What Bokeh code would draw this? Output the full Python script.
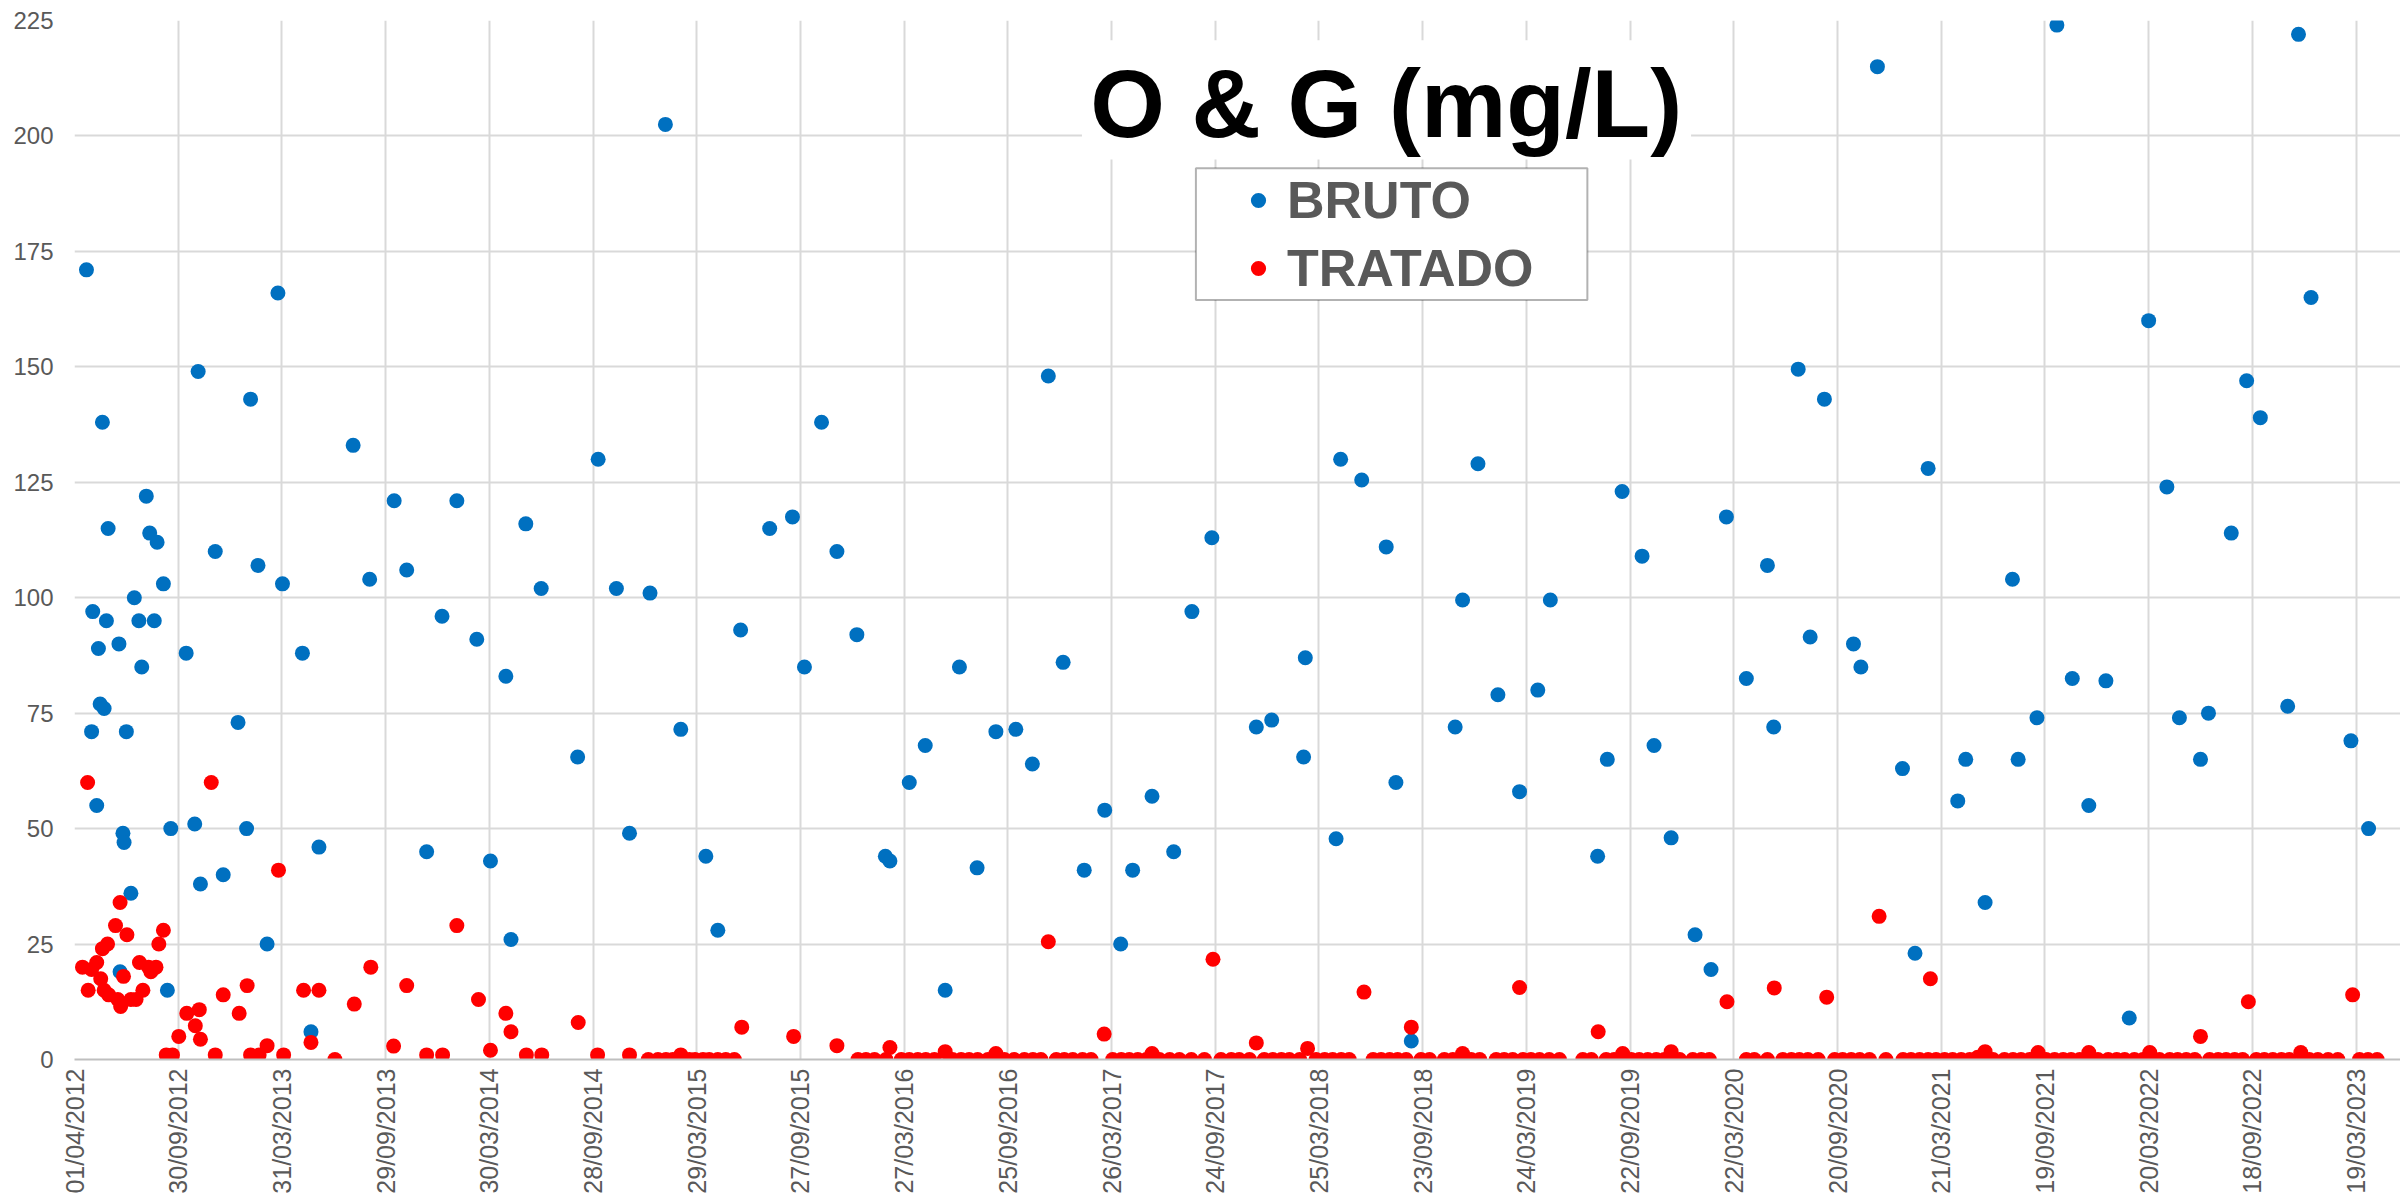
from math import pi
from datetime import datetime
from bokeh.plotting import figure
from bokeh.models import (Range1d, FixedTicker, Label, BoxAnnotation, Legend,
                          LegendItem, ColumnDataSource)
from bokeh.embed import file_html
from bokeh.resources import INLINE

# ---------------- data (x = Excel date serial, y = O&G mg/L) ----------------
EXCEL_EPOCH = datetime(1899, 12, 30)

tick_labels = ["01/04/2012", "30/09/2012", "31/03/2013", "29/09/2013", "30/03/2014",
               "28/09/2014", "29/03/2015", "27/09/2015", "27/03/2016", "25/09/2016",
               "26/03/2017", "24/09/2017", "25/03/2018", "23/09/2018", "24/03/2019",
               "22/09/2019", "22/03/2020", "20/09/2020", "21/03/2021", "19/09/2021",
               "20/03/2022", "18/09/2022", "19/03/2023"]
y_ticks = [0, 25, 50, 75, 100, 125, 150, 175, 200, 225]

bruto_data = [41021, 41030, 41032, 41039, 41042, 41045, 41049, 41052, 41056, 41059,
              41078, 41080, 41085, 41087, 41091, 41099, 41105, 41113, 41118, 41126,
              41132, 41140, 41145, 41156, 41163, 41169, 41196, 41211, 41217, 41221,
              41247, 41261, 41287, 41302, 41309, 41322, 41338, 41357, 41365, 41400,
              41415, 41429, 41489, 41518, 41561, 41583, 41618, 41645, 41671, 41706,
              41730, 41757, 41766, 41792, 41819, 41883, 41919, 41951, 41974, 42010,
              42037, 42064, 42108, 42129, 42169, 42220, 42260, 42281, 42311, 42338,
              42373, 42423, 42431, 42465, 42493, 42528, 42553, 42584, 42617, 42652,
              42681, 42709, 42735, 42772, 42808, 42836, 42857, 42891, 42929, 42961,
              42996, 43074, 43101, 43157, 43160, 43214, 43222, 43259, 43302, 43319,
              43346, 43423, 43436, 43463, 43498, 43536, 43568, 43590, 43673, 43690,
              43716, 43751, 43772, 43802, 43844, 43872, 43899, 43934, 43971, 43982,
              44025, 44046, 44071, 44122, 44135, 44164, 44208, 44230, 44253, 44305,
              44319, 44353, 44401, 44411, 44444, 44479, 44506, 44535, 44565, 44606,
              44640, 44672, 44694, 44731, 44745, 44785, 44812, 44836, 44884, 44903,
              44925, 44995, 45026]
bruto_og = [171, 71, 97, 55, 89, 77, 138, 76, 95, 115,
            90, 19, 49, 47, 71, 36, 100, 95, 85, 122,
            114, 95, 112, 103, 15, 50, 88, 51, 149, 38,
            110, 40, 73, 50, 143, 107, 25, 166, 103, 88,
            6, 46, 133, 104, 121, 106, 45, 96, 121, 91,
            43, 83, 26, 116, 102, 65.5, 130, 102, 49, 101,
            202.5, 71.5, 44, 28, 93, 115, 117.5, 85, 138, 110,
            92, 44, 43, 60, 68, 15, 85, 41.5, 71, 71.5,
            64, 148, 86, 41, 54, 25, 41, 57, 45, 97,
            113, 72, 73.5, 65.5, 87, 47.8, 130, 125.5, 111, 60,
            4, 72, 99.5, 129, 79, 58, 80, 99.5, 44, 65,
            123, 109, 68, 48, 27, 19.5, 117.5, 82.5, 107, 72,
            149.5, 91.5, 143, 90, 85, 215, 63, 23, 128, 56,
            65, 34, 104, 65, 74, 224, 82.5, 55, 82, 9,
            160, 124, 74, 65, 75, 114, 147, 139, 76.5, 222,
            165, 69, 50]

tratado_data = [41014, 41023, 41024, 41030, 41039, 41046, 41049, 41052, 41058, 41060,
                41072, 41076, 41080, 41081, 41086, 41092, 41099, 41108, 41114, 41120,
                41130, 41134, 41143, 41148, 41156, 41161, 41172, 41183, 41197, 41212,
                41219, 41221, 41240, 41247, 41261, 41289, 41303, 41309, 41324, 41338,
                41358, 41367, 41402, 41415, 41429, 41457, 41491, 41520, 41560, 41583,
                41618, 41646, 41671, 41709, 41730, 41757, 41766, 41793, 41820, 41884,
                41918, 41974, 42007, 42024, 42038, 42050, 42059, 42064, 42079, 42089,
                42103, 42114, 42129, 42143, 42158, 42171, 42262, 42338, 42375, 42389,
                42404, 42424, 42431, 42451, 42465, 42480, 42494, 42509, 42528, 42541,
                42556, 42570, 42585, 42603, 42617, 42632, 42649, 42667, 42682, 42696,
                42709, 42723, 42737, 42752, 42769, 42784, 42807, 42822, 42837, 42851,
                42866, 42881, 42891, 42904, 42922, 42939, 42960, 42983, 42998, 43012,
                43030, 43044, 43062, 43074, 43088, 43103, 43118, 43132, 43150, 43164,
                43179, 43194, 43208, 43223, 43237, 43263, 43279, 43293, 43308, 43322,
                43337, 43346, 43363, 43378, 43404, 43419, 43436, 43451, 43466, 43495,
                43509, 43524, 43536, 43542, 43556, 43571, 43588, 43606, 43647, 43662,
                43674, 43688, 43702, 43717, 43732, 43746, 43761, 43776, 43790, 43802,
                43817, 43840, 43855, 43869, 43900, 43934, 43948, 43971, 43983, 43998,
                44013, 44027, 44042, 44060, 44075, 44089, 44103, 44118, 44133, 44150,
                44167, 44179, 44209, 44223, 44238, 44253, 44257, 44267, 44282, 44296,
                44311, 44326, 44340, 44353, 44367, 44387, 44402, 44416, 44431, 44446,
                44460, 44475, 44490, 44504, 44519, 44535, 44551, 44569, 44584, 44598,
                44615, 44630, 44642, 44659, 44677, 44691, 44706, 44721, 44731, 44747,
                44762, 44776, 44791, 44805, 44815, 44829, 44843, 44858, 44873, 44887,
                44907, 44922, 44937, 44955, 44972, 44998, 45010, 45025, 45041]
tratado_og = [20, 60, 15, 19.5, 21, 17.5, 24, 15, 25, 14,
              29, 13, 34, 11.5, 18, 27, 13, 13, 21, 15,
              20, 19, 20, 25, 28, 1, 1, 5, 10, 7.3,
              10.8, 4.4, 60, 1, 14, 10, 16, 1, 1, 3,
              41, 1, 15, 3.7, 15, 0, 12, 20, 2.9, 16,
              1, 1, 29, 13, 2, 10, 6, 1, 1, 8,
              1, 1, 0, 0, 0, 0, 0, 1, 0, 0,
              0, 0, 0, 0, 0, 7, 5, 3, 0, 0,
              0, 0, 2.6, 0, 0, 0, 0, 0, 1.7, 0,
              0, 0, 0, 0, 1.3, 0, 0, 0, 0, 0,
              25.5, 0, 0, 0, 0, 0, 5.5, 0, 0, 0,
              0, 0, 1.3, 0, 0, 0, 0, 0, 21.7, 0,
              0, 0, 0, 3.6, 0, 0, 0, 0, 0, 2.4,
              0, 0, 0, 0, 0, 14.6, 0, 0, 0, 0,
              0, 7, 0, 0, 0, 0, 1.3, 0, 0, 0,
              0, 0, 15.6, 0, 0, 0, 0, 0, 0, 0,
              6, 0, 0, 1.3, 0, 0, 0, 0, 0, 1.7,
              0, 0, 0, 0, 12.5, 0, 0, 0, 15.5, 0,
              0, 0, 0, 0, 13.5, 0, 0, 0, 0, 0,
              31, 0, 0, 0, 0, 0, 17.5, 0, 0, 0,
              0, 0, 0.5, 1.7, 0, 0, 0, 0, 0, 1.5,
              0, 0, 0, 0, 0, 1.5, 0, 0, 0, 0,
              0, 0, 1.5, 0, 0, 0, 0, 0, 5, 0,
              0, 0, 0, 0, 12.5, 0, 0, 0, 0, 0,
              1.5, 0, 0, 0, 0, 14, 0, 0, 0]

# ---------------- figure ----------------
ticks = [(datetime.strptime(s, "%d/%m/%Y") - EXCEL_EPOCH).days for s in tick_labels]

FONT = "Liberation Sans"
GREY = "#595959"

p = figure(width=2400, height=1196, output_backend="svg", toolbar_location=None,
           x_range=Range1d(ticks[0], 45082), y_range=Range1d(0, 225),
           min_border_left=74, min_border_right=0, min_border_top=20,
           min_border_bottom=135, background_fill_color="white",
           border_fill_color="white")
p.outline_line_color = None

p.xaxis.ticker = FixedTicker(ticks=ticks)
p.xaxis.major_label_overrides = {t: l for t, l in zip(ticks, tick_labels)}
p.xaxis.major_label_orientation = pi / 2
p.xaxis.major_label_standoff = 9
p.xaxis.axis_line_color = "#BFBFBF"
p.xaxis.axis_line_width = 2

p.yaxis.ticker = FixedTicker(ticks=y_ticks)
p.yaxis.major_label_standoff = 21
p.yaxis.axis_line_color = None

for ax in (p.xaxis, p.yaxis):
    ax.major_label_text_font = FONT
    ax.major_label_text_color = GREY
    ax.major_tick_line_color = None
    ax.minor_tick_line_color = None
    ax.major_tick_out = 0
    ax.major_tick_in = 0
p.xaxis.major_label_text_font_size = "25px"
p.yaxis.major_label_text_font_size = "24px"

p.grid.grid_line_color = "#D9D9D9"
p.grid.grid_line_width = 2

# title box and legend frame (white background, hides grid)
title_box = BoxAnnotation(left=42768, right=43837, bottom=194.9, top=220.7,
                          fill_color="white", fill_alpha=1, line_color=None)
legend_box = BoxAnnotation(left=42968, right=43655, bottom=164.5, top=193.0,
                           fill_color="white", fill_alpha=1, line_color="black",
                           line_width=2)

src_b = ColumnDataSource(dict(x=bruto_data, y=bruto_og))
src_t = ColumnDataSource(dict(x=tratado_data, y=tratado_og))
r_b = p.scatter("x", "y", source=src_b, size=15, fill_color="#0070C0", line_color=None)
r_t = p.scatter("x", "y", source=src_t, size=15, fill_color="#FF0000", line_color=None)

p.add_layout(title_box)
p.add_layout(legend_box)

title = Label(x=43302, y=207, text="O & G (mg/L)", text_font=FONT,
              text_font_style="bold", text_font_size="96px", text_color="black",
              text_align="center", text_baseline="alphabetic")
p.add_layout(title)

logo_text = Label(x=44802, y=226.5, text="Meio Ambiente", text_font=FONT,
                  text_font_size="17px", text_color="#7F7F7F",
                  text_baseline="alphabetic")
p.add_layout(logo_text)

legend = Legend(items=[LegendItem(label="BRUTO", renderers=[r_b]),
                       LegendItem(label="TRATADO", renderers=[r_t])],
                location=(1165, 761), padding=4, spacing=8, margin=0,
                glyph_width=38, glyph_height=38, label_standoff=10,
                label_text_font=FONT, label_text_font_style="bold",
                label_text_font_size="52px", label_text_color=GREY,
                border_line_color=None, background_fill_alpha=0)
p.add_layout(legend, "center")

open("out.html", "w").write(file_html(p, INLINE))
